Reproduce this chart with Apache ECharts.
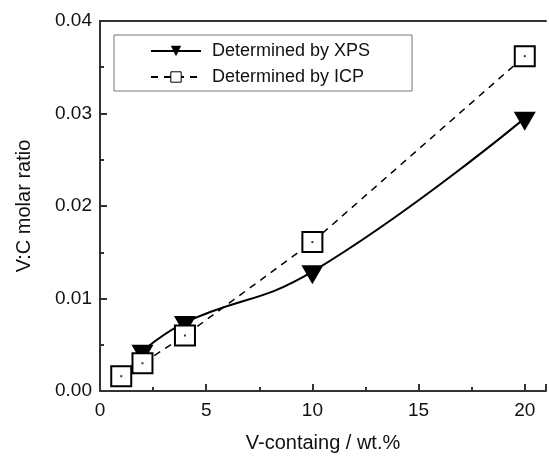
<!DOCTYPE html>
<html><head><meta charset="utf-8">
<script src="https://cdn.jsdelivr.net/npm/echarts@6/dist/echarts.min.js"></script>
<style>html,body{margin:0;padding:0;background:#fff}#c{width:549px;height:458px}</style>
</head><body><div id="c"></div>
<script>
// ---- data ----
const xpsX = [2, 4, 10, 20];
const xpsY = [0.0043, 0.0074, 0.0129, 0.0295];
const icpX = [1, 2, 4, 10, 20];
const icpY = [0.0016, 0.0030, 0.0060, 0.0161, 0.0362];
const seriesNames = ['Determined by XPS', 'Determined by ICP'];
const xTitle = 'V-containg / wt.%';
const yTitle = 'V:C molar ratio';
const xTickValues = [0, 5, 10, 15, 20];
const yTickValues = [0.00, 0.01, 0.02, 0.03, 0.04];

const FONT = '"Liberation Sans", Arial, sans-serif';
const AXIS_COLOR = '#333';
const xpsData = xpsX.map((x, i) => [x, xpsY[i]]);
const icpData = icpX.map((x, i) => [x, icpY[i]]);
const TRI = 'path://M0,0L22,0L11,19Z';

const chart = echarts.init(document.getElementById('c'), null, {renderer: 'canvas'});
chart.setOption({
  animation: false,
  backgroundColor: '#fff',
  grid: {left: 100, right: 0, top: 21, bottom: 58, containLabel: false},
  legend: {
    data: [
      {name: seriesNames[0]},
      {name: seriesNames[1], itemStyle: {borderWidth: 1}}
    ],
    orient: 'vertical',
    left: 114, top: 35,
    itemWidth: 50, itemHeight: 13, itemGap: 6,
    padding: [6, 42, 4, 36],
    borderColor: '#777', borderWidth: 1,
    backgroundColor: '#fff',
    textStyle: {fontFamily: FONT, fontSize: 18, color: '#111', lineHeight: 20, padding: [0, 0, 0, 6]},
    selectedMode: false
  },
  xAxis: [{
    type: 'value', min: 0, max: 21, interval: 5,
    name: xTitle, nameLocation: 'middle', nameGap: 42,
    nameTextStyle: {fontFamily: FONT, fontSize: 20, color: '#111'},
    axisLine: {show: true, onZero: false, lineStyle: {color: AXIS_COLOR, width: 2}},
    axisTick: {show: true, inside: true, length: 7, lineStyle: {color: AXIS_COLOR, width: 2}},
    minorTick: {show: true, splitNumber: 2, length: 4, lineStyle: {color: AXIS_COLOR, width: 2}},
    splitLine: {show: false},
    axisLabel: {fontFamily: FONT, fontSize: 19, color: '#111', margin: 10,
      formatter: v => xTickValues.includes(v) ? String(v) : ''}
  }, {
    type: 'value', position: 'top', min: 0, max: 21, interval: 5,
    axisLine: {show: true, onZero: false, lineStyle: {color: AXIS_COLOR, width: 2}},
    axisTick: {show: false}, axisLabel: {show: false}, splitLine: {show: false}
  }],
  yAxis: [{
    type: 'value', min: 0, max: 0.04, interval: 0.01,
    name: yTitle, nameLocation: 'middle', nameGap: 66, nameRotate: 90,
    nameTextStyle: {fontFamily: FONT, fontSize: 20, color: '#111'},
    axisLine: {show: true, onZero: false, lineStyle: {color: AXIS_COLOR, width: 2}},
    axisTick: {show: true, inside: true, length: 7, lineStyle: {color: AXIS_COLOR, width: 2}},
    minorTick: {show: true, splitNumber: 2, length: 4, lineStyle: {color: AXIS_COLOR, width: 2}},
    splitLine: {show: false},
    axisLabel: {fontFamily: FONT, fontSize: 19, color: '#111', margin: 8,
      formatter: v => {
        const t = yTickValues.find(k => Math.abs(k - v) < 1e-9);
        return t === undefined ? '' : t.toFixed(2);
      }}
  }],
  series: [{
    name: seriesNames[0], type: 'line', data: xpsData,
    smooth: 0.45,
    symbol: TRI, symbolSize: [22, 19], symbolOffset: [0, 3], symbolKeepAspect: false,
    lineStyle: {color: '#000', width: 2, type: 'solid'},
    itemStyle: {color: '#000', borderWidth: 0},
    z: 3
  }, {
    name: seriesNames[1], type: 'line', data: icpData,
    symbol: 'rect', symbolSize: 20,
    lineStyle: {color: '#000', width: 1.5, type: [7, 6]},
    itemStyle: {color: '#fff', borderColor: '#000', borderWidth: 2},
    z: 4
  }, {
    name: 'icp-center', type: 'scatter', data: icpData,
    symbol: 'rect', symbolSize: 2,
    itemStyle: {color: '#000'},
    z: 5, silent: true
  }]
});
</script></body></html>
